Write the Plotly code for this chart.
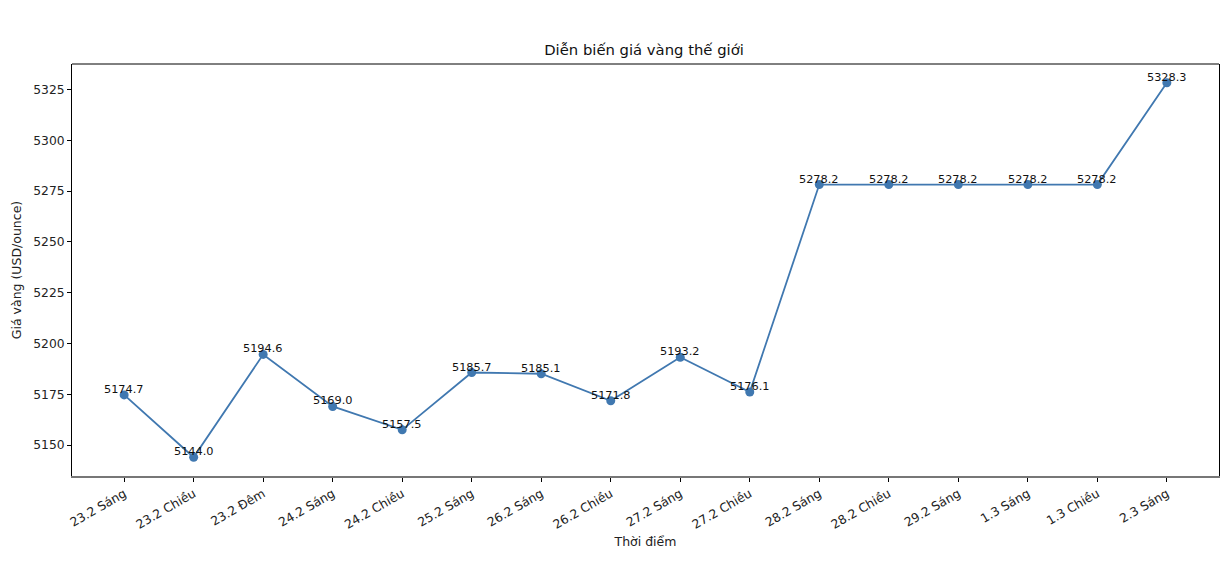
import plotly.graph_objects as go

labels = ["23.2 Sáng", "23.2 Chiều", "23.2 Đêm", "24.2 Sáng", "24.2 Chiều", "25.2 Sáng",
          "26.2 Sáng", "26.2 Chiều", "27.2 Sáng", "27.2 Chiều", "28.2 Sáng", "28.2 Chiều",
          "29.2 Sáng", "1.3 Sáng", "1.3 Chiều", "2.3 Sáng"]
prices = [5174.7, 5144.0, 5194.6, 5169.0, 5157.5, 5185.7, 5185.1, 5171.8, 5193.2, 5176.1,
          5278.2, 5278.2, 5278.2, 5278.2, 5278.2, 5328.3]
y_ticks = [5150, 5175, 5200, 5225, 5250, 5275, 5300, 5325]

color = "#4078b0"
font = "DejaVu Sans"
idx = list(range(len(labels)))

fig = go.Figure()
fig.add_trace(go.Scatter(
    x=idx, y=prices, mode="lines+markers",
    line=dict(color=color, width=1.8),
    marker=dict(color=color, size=9),
    hoverinfo="skip", showlegend=False,
))
for i, v in zip(idx, prices):
    fig.add_annotation(x=i, y=v, text=f"{v:.1f}", showarrow=False,
                       xanchor="center", yanchor="bottom", yshift=-3,
                       font=dict(family=font, size=11.3, color="#111"))

ymin, ymax = min(prices), max(prices)
pad = (ymax - ymin) * 0.05
n = len(labels) - 1
fig.update_layout(
    width=1220, height=568,
    margin=dict(l=61, r=8, t=56, b=100),
    paper_bgcolor="white", plot_bgcolor="white",
    font=dict(family=font, size=12.3, color="#222"),
    title=dict(text="Diễn biến giá vàng thế giới", x=(644 - 8) / 1220, xanchor="center",
               y=1 - 42 / 568, yanchor="middle",
               font=dict(family=font, size=14.8, color="#111")),
    xaxis=dict(
        range=[-0.05 * n, n + 0.05 * n],
        tickmode="array", tickvals=idx, ticktext=labels, tickangle=-30,
        ticks="outside", ticklen=4, tickcolor="black",
        showgrid=False, zeroline=False,
        showline=True, linecolor="#777", linewidth=2, mirror=False,
        title=dict(text="Thời điểm", standoff=6, font=dict(size=12.5)),
    ),
    yaxis=dict(
        range=[ymin - pad, ymax + pad],
        tickmode="array", tickvals=y_ticks,
        ticks="outside", ticklen=4, tickcolor="black",
        showgrid=False, zeroline=False,
        showline=True, linecolor="black", linewidth=1, mirror=True,
        title=dict(text="Giá vàng (USD/ounce)", standoff=8, font=dict(size=12.5)),
    ),
)
# top spine
fig.add_shape(type="line", xref="paper", yref="paper", x0=0, x1=1, y0=1, y1=1,
              line=dict(color="black", width=1))

fig.write_html("out.html")
